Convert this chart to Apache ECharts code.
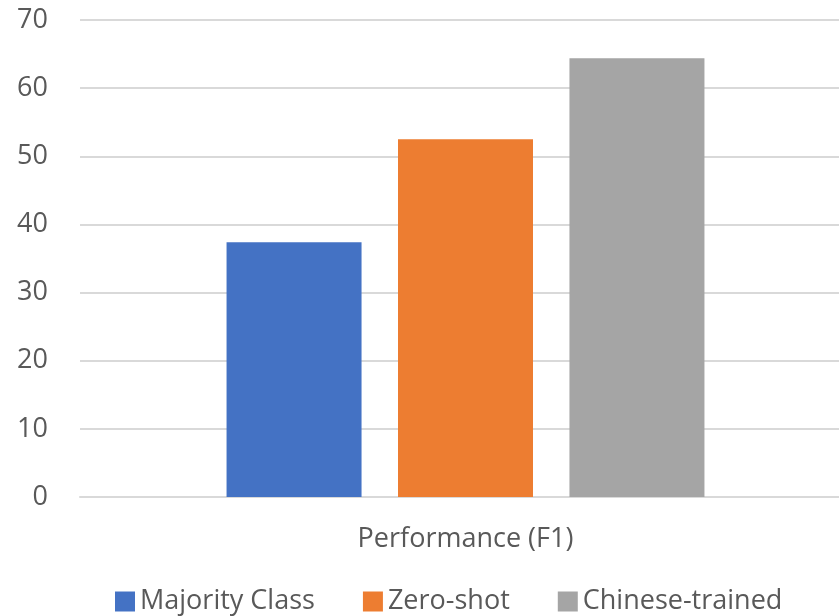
<!DOCTYPE html>
<html>
<head>
<meta charset="utf-8">
<script src="https://cdn.jsdelivr.net/npm/echarts@6/dist/echarts.min.js"></script>
<style>
html,body{margin:0;padding:0;background:#fff;overflow:hidden;}
#chart{width:851px;height:616px;}
</style>
</head>
<body>
<div id="chart"></div>
<script>
var categories=['Performance (F1)'];
var seriesNames=['Majority Class','Zero-shot','Chinese-trained'];
var majorityVals=[37.4];
var zeroShotVals=[52.5];
var chineseVals=[64.4];
var colors=['#4472C4','#ED7D31','#A5A5A5'];
var fontFamily='"Open Sans","Noto Sans",sans-serif';

var chart=echarts.init(document.getElementById('chart'));
var option={
    animation:false,
    color:colors,
    grid:{left:80,top:20,right:0,height:477,containLabel:false},
    legend:{
        top:583,
        left:110,
        itemWidth:20,
        itemHeight:20,
        itemGap:48,
        icon:'rect',
        textStyle:{color:'#595959',fontSize:27,fontFamily:fontFamily},
        data:seriesNames
    },
    xAxis:{
        type:'category',
        data:categories,
        axisLine:{show:true,lineStyle:{color:'#d9d9d9',width:2}},
        axisTick:{show:false},
        axisLabel:{color:'#595959',fontSize:27,fontFamily:fontFamily,margin:29}
    },
    yAxis:{
        type:'value',
        min:0,
        max:70,
        interval:10,
        axisLine:{show:false},
        axisTick:{show:false},
        axisLabel:{color:'#595959',fontSize:27,fontFamily:fontFamily,margin:32},
        splitLine:{lineStyle:{color:'#d9d9d9',width:2}}
    },
    series:[
        {name:seriesNames[0],type:'bar',data:majorityVals,barWidth:135,barGap:'27%'},
        {name:seriesNames[1],type:'bar',data:zeroShotVals,barWidth:135,barGap:'27%'},
        {name:seriesNames[2],type:'bar',data:chineseVals,barWidth:135,barGap:'27%'}
    ]
};
chart.setOption(option);
</script>
</body>
</html>
